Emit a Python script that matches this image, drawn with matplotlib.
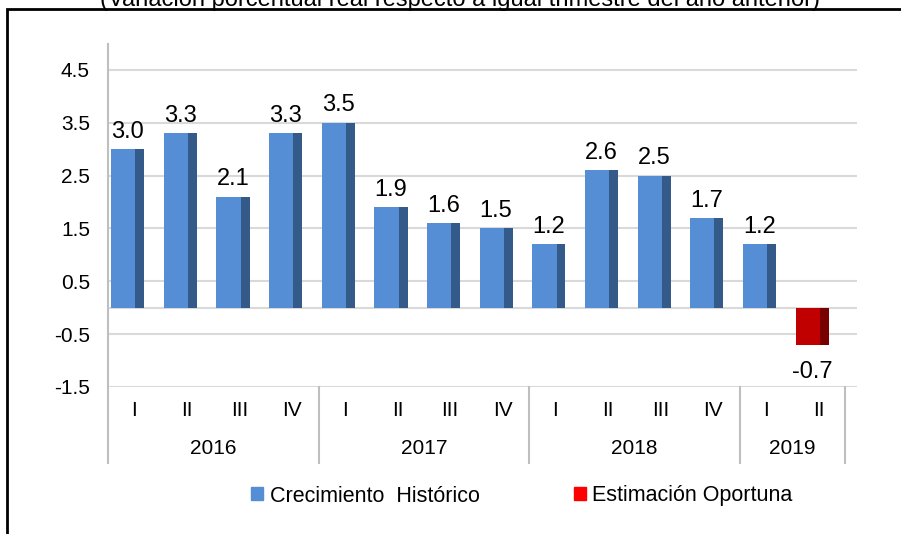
import matplotlib.pyplot as plt
from matplotlib.patches import Patch, Rectangle
from matplotlib.lines import Line2D

plt.rcParams['font.family'] = ['Liberation Sans', 'DejaVu Sans']

years = ['2016', '2017', '2018', '2019']
quarters = ['I', 'II', 'III', 'IV', 'I', 'II', 'III', 'IV', 'I', 'II', 'III', 'IV', 'I', 'II']
year_sizes = [4, 4, 4, 2]
values = [3.0, 3.3, 2.1, 3.3, 3.5, 1.9, 1.6, 1.5, 1.2, 2.6, 2.5, 1.7, 1.2, -0.7]
is_estimate = [False] * 13 + [True]
yticks = [-1.5, -0.5, 0.5, 1.5, 2.5, 3.5, 4.5]
title = '(Variación porcentual real respecto a igual trimestre del año anterior)'
legend_labels = ['Crecimiento  Histórico', 'Estimación Oportuna']

blue, blue_side, blue_leg = '#558ED5', '#345A8A', '#558ED5'
red, red_side, red_leg = '#C00000', '#780000', '#FF0000'
grid_c = '#D9D9D9'
axis_c = '#BFBFBF'

fig = plt.figure(figsize=(9.01, 5.34), dpi=100)
ax = fig.add_axes([108 / 901, 1 - 387 / 534, (857 - 108) / 901, (387 - 43.5) / 534])
n = len(values)
ax.set_xlim(0, n * 749 / 737)
ax.set_ylim(-1.5, 5.0)

for i, v in enumerate(values):
    front = red if is_estimate[i] else blue
    side = red_side if is_estimate[i] else blue_side
    ax.bar(i + 0.06, v, width=0.46, align='edge', color=front, zorder=3)
    ax.bar(i + 0.52, v, width=0.17, align='edge', color=side, zorder=3)
    if v >= 0:
        ax.text(i + 0.37, v + 0.12, f'{v:.1f}', ha='center', va='bottom', fontsize=17, zorder=4)
    else:
        ax.text(i + 0.37, v - 0.3, f'{v:.1f}', ha='center', va='top', fontsize=17, zorder=4)

ax.set_yticks(yticks)
ax.set_yticklabels([f'{t:.1f}' for t in yticks], fontsize=15)
ax.tick_params(axis='y', length=0, pad=13)
ax.set_xticks([])
ax.grid(axis='y', color=grid_c, linewidth=1.5, zorder=0)
ax.axhline(0, color=grid_c, linewidth=1.5, zorder=1)
for s in ax.spines.values():
    s.set_visible(False)

# axis line and category separators
y_bottom = -2.93
ax.add_line(Line2D([0, 0], [5.0, y_bottom], color=axis_c, linewidth=1.5, clip_on=False))
edges = [0]
for sz in year_sizes:
    edges.append(edges[-1] + sz)
for e in edges[1:]:
    ax.add_line(Line2D([e, e], [-1.5, y_bottom], color=axis_c, linewidth=1.5, clip_on=False))
for i, q in enumerate(quarters):
    ax.text(i + 0.5, -1.95, q, ha='center', va='center', fontsize=15, clip_on=False)
for k, y in enumerate(years):
    ax.text((edges[k] + edges[k + 1]) / 2, -2.67, y, ha='center', va='center', fontsize=15, clip_on=False)

# outer frame (partially outside the image)
fig.patches.append(Rectangle((7 / 901, -0.1), 1.2, 1.1 - 9 / 534, transform=fig.transFigure,
                             fill=False, edgecolor='black', linewidth=2))

fig.text(460 / 901, 1 - 6 / 534, title, ha='center', va='baseline', fontsize=17)

handles = [Patch(color=blue_leg), Patch(color=red_leg)]
fig.legend(handles, legend_labels, loc='center', bbox_to_anchor=(522 / 901, 1 - 496 / 534),
           ncol=2, frameon=False, fontsize=15.5, handlelength=0.55, handleheight=0.55,
           handletextpad=0.3, columnspacing=4.4)

fig.savefig('out.png', dpi=100)
